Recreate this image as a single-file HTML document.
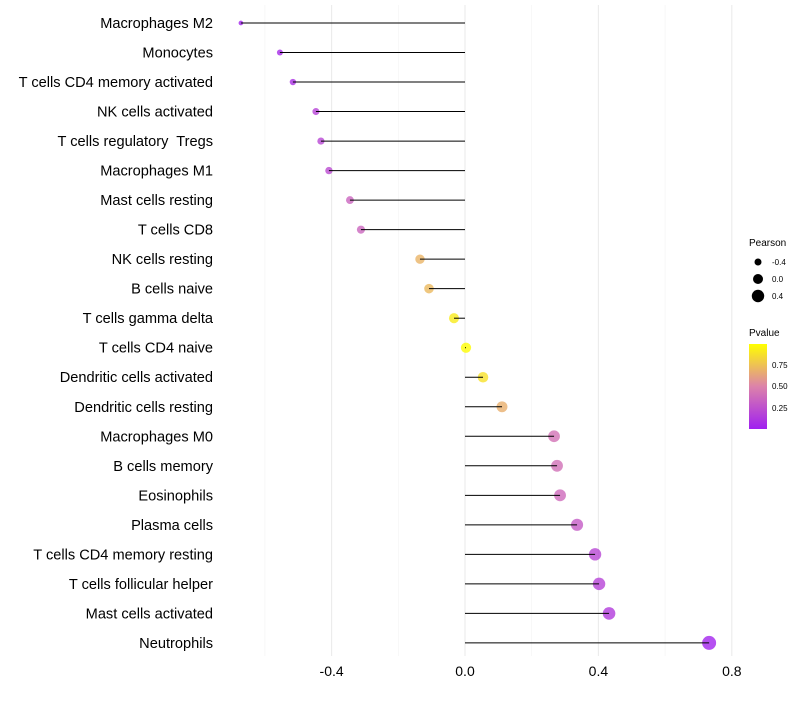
<!DOCTYPE html>
<html><head><meta charset="utf-8"><style>
body{margin:0;background:#fff;font-family:"Liberation Sans",sans-serif}
</style></head><body>
<svg id="c" width="800" height="700" xmlns="http://www.w3.org/2000/svg">
<defs><linearGradient id="pg" x1="0" y1="1" x2="0" y2="0">
<stop offset="0" stop-color="#a020f0"/><stop offset="0.5" stop-color="#dc82aa"/><stop offset="1" stop-color="#ffff00"/>
</linearGradient></defs>
<g id="grid"></g><g id="points"></g><g id="marks"></g><g id="labels"></g>
<g font-size="10">
<text x="749" y="246">Pearson</text>
<circle cx="758" cy="262" r="3.5" fill="#000"/>
<text x="772" y="265" font-size="8">-0.4</text>
<circle cx="758" cy="279" r="5" fill="#000"/>
<text x="772" y="282" font-size="8">0.0</text>
<circle cx="758" cy="296" r="6.2" fill="#000"/>
<text x="772" y="299" font-size="8">0.4</text>
<text x="749" y="336">Pvalue</text>
<rect x="749" y="344" width="18" height="85" fill="url(#pg)"/>
<text x="772" y="368" font-size="8">0.75</text>
<text x="772" y="389" font-size="8">0.50</text>
<text x="772" y="411" font-size="8">0.25</text>
</g>
</svg>
<script>
const categories=["Macrophages M2","Monocytes","T cells CD4 memory activated","NK cells activated","T cells regulatory  Tregs","Macrophages M1","Mast cells resting","T cells CD8","NK cells resting","B cells naive","T cells gamma delta","T cells CD4 naive","Dendritic cells activated","Dendritic cells resting","Macrophages M0","B cells memory","Eosinophils","Plasma cells","T cells CD4 memory resting","T cells follicular helper","Mast cells activated","Neutrophils"];
const pearson=[-0.672,-0.555,-0.516,-0.447,-0.432,-0.408,-0.345,-0.312,-0.135,-0.108,-0.033,0.003,0.054,0.111,0.267,0.276,0.285,0.336,0.39,0.402,0.432,0.732];
const pvalues=[0.02,0.05,0.08,0.18,0.2,0.22,0.35,0.36,0.7,0.72,0.92,0.99,0.88,0.68,0.42,0.41,0.38,0.3,0.2,0.18,0.14,0.02];
const xTicks=[-0.4,0,0.4,0.8];
const xTickLabels=["-0.4","0.0","0.4","0.8"];
const xMinor=[-0.6,-0.2,0.2,0.6];
const NS="http://www.w3.org/2000/svg";
const xs=v=>465+v*333.5;
const ys=i=>23+i*29.52;
const rs=v=>Math.sqrt(Math.max(2.5,26.2+31*v));
function col(p){const s=[[160,32,240],[220,130,170],[255,255,0]];let t=p*2,a,b;if(t<=1){a=s[0];b=s[1];}else{a=s[1];b=s[2];t-=1;}return `rgb(${a.map((c,k)=>Math.round(c+(b[k]-c)*t)).join(",")})`;}
function mk(tag,at,parent){const e=document.createElementNS(NS,tag);for(const k in at)e.setAttribute(k,at[k]);parent.appendChild(e);return e;}
const grid=document.getElementById('grid'),marks=document.getElementById('marks'),points=document.getElementById('points'),labels=document.getElementById('labels');
xMinor.forEach(v=>{const l=mk('line',{x1:xs(v),x2:xs(v),y1:5,y2:656,stroke:'#f2f2f2','stroke-width':0.6},grid);

});
xTicks.forEach((v,i)=>{const l=mk('line',{x1:xs(v),x2:xs(v),y1:5,y2:656,stroke:'#ebebeb','stroke-width':1.1},grid);


const t=mk('text',{x:xs(v),y:676,'text-anchor':'middle','font-size':14,fill:'#000'},labels);t.textContent=xTickLabels[i];

});
categories.forEach((c,i)=>{const y=ys(i),v=pearson[i];
const p=mk('circle',{cx:xs(v),cy:y,r:rs(v),fill:col(pvalues[i]),'fill-opacity':0.8},points);


const s=mk('line',{x1:xs(0),x2:xs(v),y1:y,y2:y,stroke:'#000','stroke-width':1},marks);


const t=mk('text',{x:213,y:y+5,'text-anchor':'end','font-size':14.6,fill:'#000','xml:space':'preserve'},labels);t.textContent=c;
t.style.whiteSpace='pre';

});
</script>
</body></html>
